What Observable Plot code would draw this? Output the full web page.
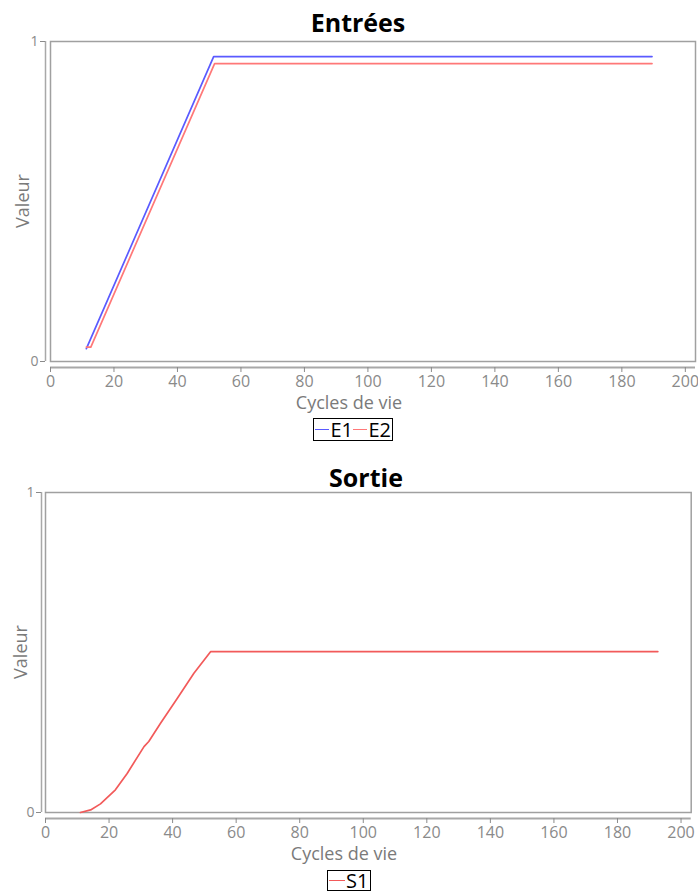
<!DOCTYPE html>
<html>
<head>
<meta charset="utf-8">
<script src="https://cdn.jsdelivr.net/npm/d3@7"></script>
<script src="https://cdn.jsdelivr.net/npm/@observablehq/plot@0.6"></script>
<style>
  html, body { margin: 0; padding: 0; background: #fff; }
  body { width: 698px; height: 894px; position: relative; overflow: hidden; font-family: "Open Sans", "Noto Sans", sans-serif; }
  .abs { position: absolute; white-space: nowrap; }
  .title { font-weight: bold; font-size: 25px; color: #000; transform: translate(-50%, -50%); }
  .xlab { font-size: 18px; color: #7a7a7a; transform: translate(-50%, -50%); }
  .ylab { font-size: 18px; color: #7a7a7a; transform: translate(-50%, -50%) rotate(-90deg); }
  .legend { border: 1px solid #000; box-sizing: border-box; display: flex; align-items: center; font-size: 20px; color: #000; padding: 0 1px; }
  .legend .sw { display: inline-block; width: 16px; height: 0; border-top: 1.5px solid; margin-right: 1px; }
  .chart { position: absolute; left: 0; }
</style>
</head>
<body>
<script>
// ---- data ----
const xTicks = [0, 20, 40, 60, 80, 100, 120, 140, 160, 180, 200];
const yTicks = [0, 1];
const xDomain = [0, 203.2];
const yDomain = [0, 1];

const e1Cycles = [11.3, 51.4, 189.5];
const e1Values = [0.040, 0.953, 0.953];
const e2Cycles = [11.3, 12.7, 51.7, 189.5];
const e2Values = [0.045, 0.045, 0.931, 0.931];
const s1Cycles = [11.0, 14.2, 17.3, 22.0, 25.7, 31.0, 32.5, 36.2, 41.5, 46.7, 52.0, 192.7];
const s1Values = [0.000, 0.008, 0.027, 0.071, 0.122, 0.206, 0.222, 0.279, 0.357, 0.435, 0.503, 0.503];

const seriesColors = { E1: "#5a5aff", E2: "#ff7878", S1: "#f25a5a" };

const toRows = (xs, ys, name) => xs.map((x, i) => ({ x, y: ys[i], name }));

function makeChart({ top, height, mt, ml, mr, series, yAxisGap }) {
  const marks = [
    Plot.frame({ stroke: "#a0a0a0", strokeWidth: 1.5 }),
    Plot.ruleY([0], { dy: 6, stroke: "#a8a8a8", strokeWidth: 2 }),
    Plot.ruleX([0], { dx: -yAxisGap, stroke: "#a8a8a8", strokeWidth: 1.5 }),
    Plot.axisX({ ticks: xTicks, tickSize: 5, dy: 6, tickPadding: 3, fontSize: 16, color: "#8a8a8a", label: null, tickFormat: d => String(d) }),
    Plot.axisY({ ticks: yTicks, tickSize: 5, dx: -yAxisGap, tickPadding: 2, fontSize: 14, color: "#8a8a8a", label: null, tickFormat: d => String(d) })
  ];
  for (const s of series) {
    marks.push(Plot.line(s.rows, { x: "x", y: "y", stroke: seriesColors[s.name], strokeWidth: 1.7 }));
  }
  const svg = Plot.plot({
    width: 698,
    height,
    marginTop: mt,
    marginLeft: ml,
    marginRight: mr,
    marginBottom: height - mt - 320,
    x: { domain: xDomain, axis: null },
    y: { domain: yDomain, axis: null },
    style: { fontFamily: "'Open Sans', 'Noto Sans', sans-serif", background: "transparent", overflow: "visible" },
    marks
  });
  const wrap = document.createElement("div");
  wrap.className = "chart";
  wrap.style.top = top + "px";
  wrap.appendChild(svg);
  document.body.appendChild(wrap);
}

function addText(cls, text, x, y) {
  const d = document.createElement("div");
  d.className = "abs " + cls;
  d.style.left = x + "px";
  d.style.top = y + "px";
  d.textContent = text;
  document.body.appendChild(d);
}

function addLegend(items, left, top, width, height) {
  const d = document.createElement("div");
  d.className = "abs legend";
  d.style.left = left + "px";
  d.style.top = top + "px";
  d.style.width = width + "px";
  d.style.height = height + "px";
  for (const name of items) {
    const sw = document.createElement("span");
    sw.className = "sw";
    sw.style.borderTopColor = seriesColors[name];
    d.appendChild(sw);
    const t = document.createElement("span");
    t.textContent = name;
    d.appendChild(t);
  }
  document.body.appendChild(d);
}

// ---- top chart: Entrées ----
makeChart({
  top: 0, height: 410, mt: 41, ml: 50, mr: 3, yAxisGap: 5,
  series: [
    { name: "E1", rows: toRows(e1Cycles, e1Values, "E1") },
    { name: "E2", rows: toRows(e2Cycles, e2Values, "E2") }
  ]
});
addText("title", "Entrées", 358, 22);
addText("xlab", "Cycles de vie", 349, 402);
addText("ylab", "Valeur", 22, 201);
addLegend(["E1", "E2"], 313, 418, 80, 23);

// ---- bottom chart: Sortie ----
makeChart({
  top: 450, height: 420, mt: 42, ml: 45, mr: 7.3, yAxisGap: 4,
  series: [
    { name: "S1", rows: toRows(s1Cycles, s1Values, "S1") }
  ]
});
addText("title", "Sortie", 366, 477);
addText("xlab", "Cycles de vie", 344, 853);
addText("ylab", "Valeur", 20, 652);
addLegend(["S1"], 327, 870, 44, 21);
</script>
</body>
</html>
